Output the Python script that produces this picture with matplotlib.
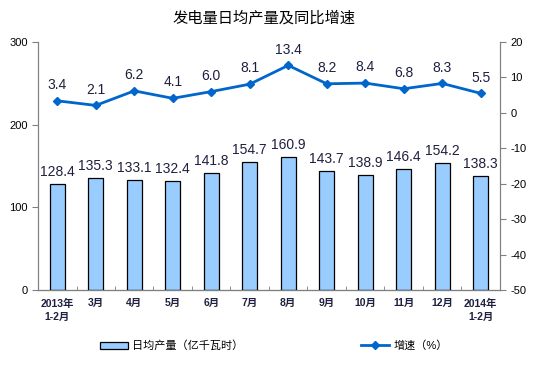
import matplotlib.pyplot as plt
from matplotlib.patches import Patch
from matplotlib.lines import Line2D

plt.rcParams['font.family'] = ['Liberation Sans', 'Noto Sans CJK SC']
plt.rcParams['axes.unicode_minus'] = False

months = ['2013年\n1-2月', '3月', '4月', '5月', '6月', '7月', '8月', '9月',
          '10月', '11月', '12月', '2014年\n1-2月']
output = [128.4, 135.3, 133.1, 132.4, 141.8, 154.7, 160.9, 143.7, 138.9, 146.4, 154.2, 138.3]
growth = [3.4, 2.1, 6.2, 4.1, 6.0, 8.1, 13.4, 8.2, 8.4, 6.8, 8.3, 5.5]

bar_color = '#99CCFF'
line_color = '#0066CC'
text_color = '#1F1F3F'

fig = plt.figure(figsize=(5.54, 3.81), dpi=100)
ax = fig.add_axes([0.0686, 0.2388, 0.8339, 0.651])
ax2 = ax.twinx()

x = list(range(len(months)))
ax.bar(x, output, width=0.4, color=bar_color, edgecolor='black', linewidth=0.9, zorder=2)
for xi, v in zip(x, output):
    ax.text(xi, v + 6, f'{v:.1f}', ha='center', va='bottom', fontsize=10, color=text_color)

ax.set_ylim(0, 300)
ax.set_yticks([0, 100, 200, 300])
ax.set_xlim(-0.5, len(months) - 0.5)
ax.set_xticks(x)
ax.set_xticklabels(months, fontsize=7.5, fontweight='bold', color=text_color,
                   linespacing=1.4)
ax.tick_params(axis='x', length=0, pad=6)
ax.set_xticks([i + 0.5 for i in x[:-1]], minor=True)
ax.tick_params(axis='x', which='minor', direction='in', length=3, color='gray')
ax.tick_params(axis='y', labelsize=8, length=4, color='gray')

ax2.plot(x, growth, color=line_color, linewidth=2, marker='D', markersize=4, zorder=3)
for xi, v in zip(x, growth):
    ax2.text(xi, v + 2.5, f'{v:.1f}', ha='center', va='bottom', fontsize=10, color=text_color)
ax2.set_ylim(-50, 20)
ax2.set_yticks(range(-50, 21, 10))
ax2.tick_params(axis='y', labelsize=8, length=4, color='gray')

for a in (ax, ax2):
    a.spines['top'].set_visible(False)
    for s in ('left', 'right', 'bottom'):
        a.spines[s].set_color('gray')
ax.spines['bottom'].set_color('black')

fig.text(0.477, 0.952, '发电量日均产量及同比增速', ha='center', va='center', fontsize=11,
         color='black')

handles = [Patch(facecolor=bar_color, edgecolor='black', linewidth=0.9),
           Line2D([0], [0], color=line_color, linewidth=2, marker='D', markersize=4)]
fig.legend(handles, ['日均产量（亿千瓦时）', '增速（%）'], loc='center',
           bbox_to_anchor=(0.494, 0.092), ncol=2, frameon=False, fontsize=8,
           columnspacing=10.6, handlelength=2.5, handletextpad=0.4)

fig.savefig('out.png', dpi=100)
